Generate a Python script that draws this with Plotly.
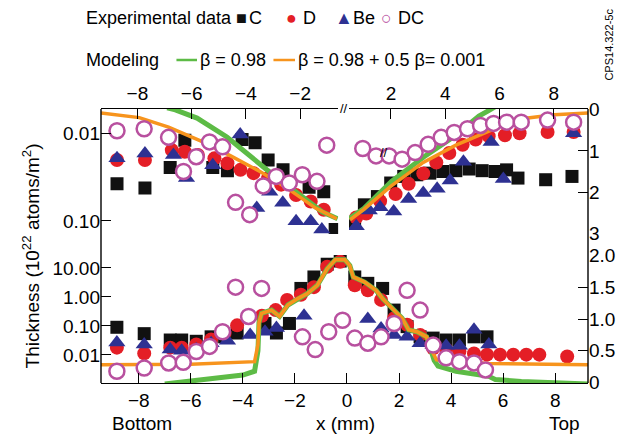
import plotly.graph_objects as go

# ---------------- data (x in mm) ----------------
# Top panel, left of break (values on 0..3 right scale, reversed)
c_tl_x = [-8.75, -7.72, -6.79, -6.25, -5.22, -4.68, -4.14, -3.66, -3.18, -2.63, -1.67, -1.13, -0.71]
c_tl_y = [1.80, 1.90, 1.40, 0.74, 1.40, 1.48, 0.72, 0.80, 1.22, 1.46, 1.88, 1.99, 2.91]
d_tl_x = [-8.75, -7.72, -6.73, -6.25, -5.77, -5.16, -4.68, -4.20, -3.72, -3.18, -2.70, -2.15, -1.61, -1.13]
d_tl_y = [1.22, 1.22, 0.98, 1.02, 1.10, 1.18, 1.30, 1.46, 1.54, 1.66, 1.82, 2.07, 2.23, 2.43]
be_tl_x = [-8.75, -7.72, -6.67, -6.19, -5.22, -4.21, -3.60, -3.12, -2.64, -2.15, -1.61, -1.20]
be_tl_y = [1.18, 1.06, 1.10, 1.66, 1.35, 0.60, 2.39, 1.99, 2.26, 2.71, 2.71, 2.91]
dc_tl_x = [-8.75, -7.75, -6.85, -6.30, -5.83, -5.34, -4.86, -4.38, -3.86, -3.36, -2.88, -2.40, -1.92, -1.38, -1.02]
dc_tl_y = [0.51, 0.46, 0.67, 1.50, 1.14, 0.78, 0.90, 2.25, 2.55, 1.85, 1.62, 1.78, 1.58, 1.74, 0.86]
green_tl_x = [-6.9, -6.6, -5.8, -4.7, -3.24, -2.15, -1.19, -0.62]
green_tl_y = [-0.05, 0.0, 0.20, 0.66, 1.45, 1.98, 2.48, 2.65]
orange_tl_x = [-9.34, -7.93, -6.85, -5.65, -4.56, -3.48, -2.40, -1.43, -0.65]
orange_tl_y = [0.08, 0.19, 0.42, 0.76, 1.12, 1.50, 1.94, 2.39, 2.65]

# Top panel, right of break
c_tr_x = [0.66, 1.02, 1.50, 1.99, 2.47, 2.95, 3.43, 3.91, 4.39, 4.88, 5.36, 5.84, 6.26, 6.68, 7.70, 8.67]
c_tr_y = [2.75, 2.31, 2.11, 1.78, 1.62, 1.58, 1.54, 1.50, 1.48, 1.44, 1.48, 1.50, 1.46, 1.66, 1.70, 1.62]
d_tr_x = [0.72, 1.09, 1.60, 2.17, 2.65, 3.19, 3.67, 4.15, 4.64, 5.12, 5.60, 6.20, 6.74, 7.77, 8.73]
d_tr_y = [2.62, 2.52, 2.22, 2.05, 1.80, 1.55, 1.28, 1.05, 0.85, 0.72, 0.64, 0.62, 0.57, 0.54, 0.54]
be_tr_x = [0.72, 1.20, 1.60, 2.10, 2.65, 3.19, 3.70, 4.18, 4.67, 5.69, 6.14, 8.73]
be_tr_y = [2.83, 2.45, 2.37, 2.47, 2.17, 2.02, 1.92, 1.72, 1.26, 0.78, 1.68, 0.57]
dc_tr_x = [0.96, 1.45, 1.93, 2.41, 2.89, 3.37, 3.85, 4.33, 4.82, 5.30, 5.78, 6.26, 6.80, 7.77, 8.73]
dc_tr_y = [0.94, 1.12, 1.12, 1.20, 1.04, 0.84, 0.67, 0.55, 0.46, 0.38, 0.33, 0.30, 0.30, 0.25, 0.30]
green_tr_x = [0.45, 1.0, 2.02, 3.22, 4.30, 5.24, 5.60, 5.90]
green_tr_y = [2.65, 2.40, 1.74, 1.14, 0.66, 0.15, 0.02, -0.10]
orange_tr_x = [0.50, 1.0, 1.99, 3.19, 4.39, 5.24, 5.96, 7.04, 8.01, 9.26]
orange_tr_y = [2.67, 2.42, 1.86, 1.28, 0.86, 0.62, 0.42, 0.20, 0.12, 0.08]

# Bottom panel (values on 0..2 right scale)
c_b_x = [-8.84, -7.79, -6.79, -6.35, -5.79, -5.22, -4.70, -4.22, -3.15, -2.71, -2.21, -1.77, -1.27,
         -0.76, -0.26, 0.30, 0.80, 1.37, 1.81, 2.31, 2.81, 3.31, 3.81, 4.32, 4.88, 5.38]
c_b_y = [0.87, 0.77, 0.67, 0.67, 0.65, 0.72, 0.72, 0.78, 0.93, 0.78, 0.93, 1.48, 1.66,
         1.86, 1.91, 1.66, 1.56, 1.48, 1.14, 0.88, 0.72, 0.70, 0.67, 0.67, 0.72, 0.72]
d_b_x = [-8.84, -7.79, -6.79, -6.35, -5.79, -5.22, -4.70, -4.22, -3.27, -2.74, -2.30, -1.77, -1.27,
         -0.76, -0.26, 0.30, 0.80, 1.31, 1.81, 2.31, 2.81, 3.31, 3.81, 4.32, 4.88, 5.38, 5.88,
         6.39, 6.89, 7.39, 8.46]
d_b_y = [0.55, 0.46, 0.55, 0.55, 0.60, 0.68, 0.78, 0.90, 1.05, 1.14, 1.30, 1.38, 1.50,
         1.82, 1.90, 1.53, 1.45, 1.30, 1.01, 0.91, 0.75, 0.54, 0.52, 0.49, 0.46, 0.44, 0.44,
         0.44, 0.44, 0.44, 0.41]
be_b_x = [-8.84, -7.79, -6.79, -6.35, -5.79, -5.22, -4.59, -3.72, -3.15, -2.71, -1.65, 0.80, 1.31,
          1.81, 2.31, 2.81, 3.31, 3.81, 4.32, 4.88, 5.45]
be_b_y = [0.63, 0.60, 0.52, 0.50, 0.52, 0.62, 0.66, 0.75, 0.80, 0.86, 1.05, 1.00, 0.85,
          0.75, 0.72, 0.62, 0.59, 0.58, 0.58, 0.83, 0.60]
dc_b_x = [-8.84, -7.79, -6.85, -6.29, -5.79, -5.28, -4.78, -4.28, -3.78, -3.28, -1.71, -1.22, -0.70,
          -0.17, 0.30, 0.80, 1.31, 1.81, 2.31, 2.81, 3.31, 3.81, 4.32, 4.88, 5.32]
dc_b_y = [0.18, 0.23, 0.31, 0.32, 0.49, 0.57, 0.80, 1.50, 1.04, 1.48, 0.72, 0.52, 0.80,
          0.98, 0.70, 0.62, 0.72, 0.93, 1.45, 1.14, 0.59, 0.39, 0.33, 0.31, 0.20]
orange_b_x = [-9.45, -6.0, -3.55, -3.42, -3.38, -3.28, -2.90, -2.59, -2.27, -1.89, -1.52, -1.14, -0.76,
              -0.45, -0.08, 0.11, 0.24, 0.68, 1.12, 1.37, 1.68, 1.87, 2.12, 2.37, 2.69, 3.06, 3.20,
              3.44, 5.45, 9.26]
orange_b_y = [0.28, 0.29, 0.33, 0.60, 0.95, 1.09, 1.14, 1.04, 1.22, 1.32, 1.40, 1.53, 1.79,
              1.93, 1.93, 1.84, 1.66, 1.58, 1.45, 1.32, 1.19, 1.11, 1.01, 0.83, 0.80, 0.72, 0.55,
              0.36, 0.30, 0.28]
green_b_x = [-7.0, -6.0, -5.0, -4.0, -3.55, -3.42, -3.38, -3.28, -2.90, -2.59, -2.27, -1.89, -1.52,
             -1.14, -0.76, -0.45, -0.08, 0.11, 0.24, 0.68, 1.12, 1.37, 1.68, 1.87, 2.12, 2.37, 2.69,
             3.06, 3.20, 3.35, 3.50, 4.19, 5.45, 5.70, 6.70, 7.60, 9.26]
green_b_y = [-0.02, 0.03, 0.07, 0.12, 0.18, 0.50, 0.95, 1.09, 1.14, 1.04, 1.22, 1.32, 1.40,
             1.53, 1.79, 1.93, 1.93, 1.84, 1.66, 1.58, 1.45, 1.32, 1.19, 1.11, 1.01, 0.83, 0.80,
             0.72, 0.55, 0.35, 0.26, 0.18, 0.10, 0.05, 0.02, 0.0, -0.02]

bottom_ticks = [-8, -6, -4, -2, 0, 2, 4, 6, 8]
top_left_ticks = [-8, -6, -4, -2]
top_right_ticks = [2, 4, 6, 8]
log_ticks_bottom = [0.01, 0.1, 1, 10]
log_ticktext_bottom = ["0.01", "0.10", "1.00", "10.00"]
log_ticks_top = [0.01, 0.1]
log_ticktext_top = ["0.01", "0.10"]
right_ticks_top = [0, 1, 2, 3]
right_ticks_bottom = [0, 0.5, 1.0, 1.5, 2.0]
right_ticktext_bottom = ["0", "0.5", "1.0", "1.5", "2.0"]

# ---------------- style ----------------
FONT = "Arial, Liberation Sans, sans-serif"
FS = 19
BLACK = "#111111"
RED = "#e41e26"
BLUE = "#2e3192"
PINK = "#b8509f"
GREEN = "#5dbb46"
ORANGE = "#f7941d"

W, H = 627, 439
ML, MR, MT, MB = 101, 29, 109, 56
PW, PH = W - ML - MR, H - MT - MB


def pxx(x):
    return (x - ML) / PW


def pxy(y):
    return (H - MB - y) / PH


fig = go.Figure()

# anchor traces (no drawn points) so the log axes own a subplot
fig.add_trace(go.Scatter(x=c_b_x, y=[None] * len(c_b_x), xaxis="x", yaxis="y", mode="markers",
                         showlegend=False, hoverinfo="skip"))
fig.add_trace(go.Scatter(x=c_tl_x, y=[None] * len(c_tl_x), xaxis="x2", yaxis="y2", mode="markers",
                         showlegend=False, hoverinfo="skip"))


def add_set(xa, ya, cx, cy, dx, dy, bx, by, dcx, dcy, gx, gy, ox, oy):
    kw = dict(xaxis=xa, yaxis=ya, showlegend=False, hoverinfo="skip", cliponaxis=True)
    fig.add_trace(go.Scatter(x=cx, y=cy, mode="markers",
                             marker=dict(symbol="square", size=13, color=BLACK), **kw))
    fig.add_trace(go.Scatter(x=dx, y=dy, mode="markers",
                             marker=dict(symbol="circle", size=14, color=RED), **kw))
    fig.add_trace(go.Scatter(x=bx, y=by, mode="markers",
                             marker=dict(symbol="triangle-up", size=15, color=BLUE), **kw))
    fig.add_trace(go.Scatter(x=gx, y=gy, mode="lines",
                             line=dict(color=GREEN, width=5), **kw))
    fig.add_trace(go.Scatter(x=ox, y=oy, mode="lines",
                             line=dict(color=ORANGE, width=3.5), **kw))
    fig.add_trace(go.Scatter(x=dcx, y=dcy, mode="markers",
                             marker=dict(symbol="circle", size=15, color="white",
                                         line=dict(color=PINK, width=2.5)), **kw))


add_set("x2", "y5", c_tl_x, c_tl_y, d_tl_x, d_tl_y, be_tl_x, be_tl_y, dc_tl_x, dc_tl_y,
        green_tl_x, green_tl_y, orange_tl_x, orange_tl_y)
add_set("x3", "y3", c_tr_x, c_tr_y, d_tr_x, d_tr_y, be_tr_x, be_tr_y, dc_tr_x, dc_tr_y,
        green_tr_x, green_tr_y, orange_tr_x, orange_tr_y)
add_set("x", "y4", c_b_x, c_b_y, d_b_x, d_b_y, be_b_x, be_b_y, dc_b_x, dc_b_y,
        green_b_x, green_b_y, orange_b_x, orange_b_y)

tickfont = dict(family=FONT, size=FS, color="black")
axbase = dict(showgrid=False, zeroline=False, ticks="inside", ticklen=10, tickwidth=1.3,
              tickcolor="black", linecolor="black", linewidth=1.4, tickfont=tickfont,
              fixedrange=True)

top_dom = [(H - MB - 234) / PH, 1]
bot_dom = [0, (H - MB - 255) / PH]

fig.update_layout(
    width=W, height=H,
    margin=dict(l=ML, r=MR, t=MT, b=MB),
    paper_bgcolor="white", plot_bgcolor="rgba(0,0,0,0)",
    font=dict(family=FONT, size=FS, color="black"),
    xaxis=dict(domain=[0, 1], anchor="y", range=[-9.45, 9.26], tickvals=bottom_ticks,
               showline=True, **axbase),
    yaxis=dict(domain=bot_dom, anchor="x", type="log", range=[-2.966, 1.448],
               tickvals=log_ticks_bottom, ticktext=log_ticktext_bottom, showline=False, **axbase),
    yaxis4=dict(domain=bot_dom, overlaying="y", anchor="x", side="right", range=[-0.005, 2.005],
                tickvals=right_ticks_bottom, ticktext=right_ticktext_bottom, showline=False, **axbase),
    xaxis2=dict(domain=[0, pxx(343)], anchor="y2", side="top", range=[-9.34, -0.60],
                tickvals=top_left_ticks, showline=True, **axbase),
    yaxis2=dict(domain=top_dom, anchor="x2", type="log", range=[-0.852, -2.273],
                tickvals=log_ticks_top, ticktext=log_ticktext_top, showline=False, **axbase),
    yaxis5=dict(domain=top_dom, overlaying="y2", anchor="x2", range=[3.02, -0.02],
                showticklabels=False, ticks="", showline=False, showgrid=False, zeroline=False,
                fixedrange=True),
    xaxis3=dict(domain=[pxx(354), 1], anchor="y3", side="top", range=[0.45, 9.26],
                tickvals=top_right_ticks, showline=True, **axbase),
    yaxis3=dict(domain=top_dom, anchor="x3", side="right", range=[3.02, -0.02],
                tickvals=right_ticks_top, showline=False, **axbase),
)

shapes = [
    dict(type="line", xref="paper", yref="paper", x0=0, x1=0, y0=0, y1=1,
         line=dict(color="black", width=1.4)),
    dict(type="line", xref="paper", yref="paper", x0=1, x1=1, y0=0, y1=1,
         line=dict(color="black", width=1.4)),
    dict(type="line", xref="paper", yref="paper", x0=pxx(178), x1=pxx(199), y0=pxy(60), y1=pxy(60),
         line=dict(color=GREEN, width=2.5)),
    dict(type="line", xref="paper", yref="paper", x0=pxx(277), x1=pxx(299), y0=pxy(60), y1=pxy(60),
         line=dict(color=ORANGE, width=2.5)),
]
fig.update_layout(shapes=shapes)

LFS = 18


def ann(text, x, y, size=LFS, color="black", xanchor="left", angle=0, yanchor="middle"):
    fig.add_annotation(text=text, x=pxx(x), y=pxy(y), xref="paper", yref="paper",
                       showarrow=False, xanchor=xanchor, yanchor=yanchor, textangle=angle,
                       font=dict(family=FONT, size=size, color=color))


ann("Experimental data", 84, 18)
ann("■", 237, 18, color=BLACK)
ann("C", 250, 18)
ann("●", 288, 18, color=RED)
ann("D", 305, 18)
ann("▲", 338, 18, color=BLUE)
ann("Be", 356, 18)
ann("○", 385, 18, color=PINK)
ann("DC", 402, 18)
ann("Modeling", 84, 60)
ann("β = 0.98", 200, 60)
ann("β = 0.98 + 0.5 β= 0.001", 300, 60)
ann("CPS14.322-5c", 619, 45, size=11, xanchor="center", angle=-90)
ann("Thickness (10<sup>22</sup> atoms/m<sup>2</sup>)", 30, 256, size=19, xanchor="center", angle=-90)
ann("Bottom", 143, 423, size=19, xanchor="center")
ann("x (mm)", 351, 423, size=19, xanchor="center")
ann("Top", 574, 423, size=19, xanchor="center")
ann("//", 348.5, 108, size=13, xanchor="center")
ann("//", 390, 152, size=13, xanchor="center")

fig.write_html("out.html", config={"displayModeBar": False},
               post_script="document.body.style.margin='0';document.body.style.overflow='hidden';")
